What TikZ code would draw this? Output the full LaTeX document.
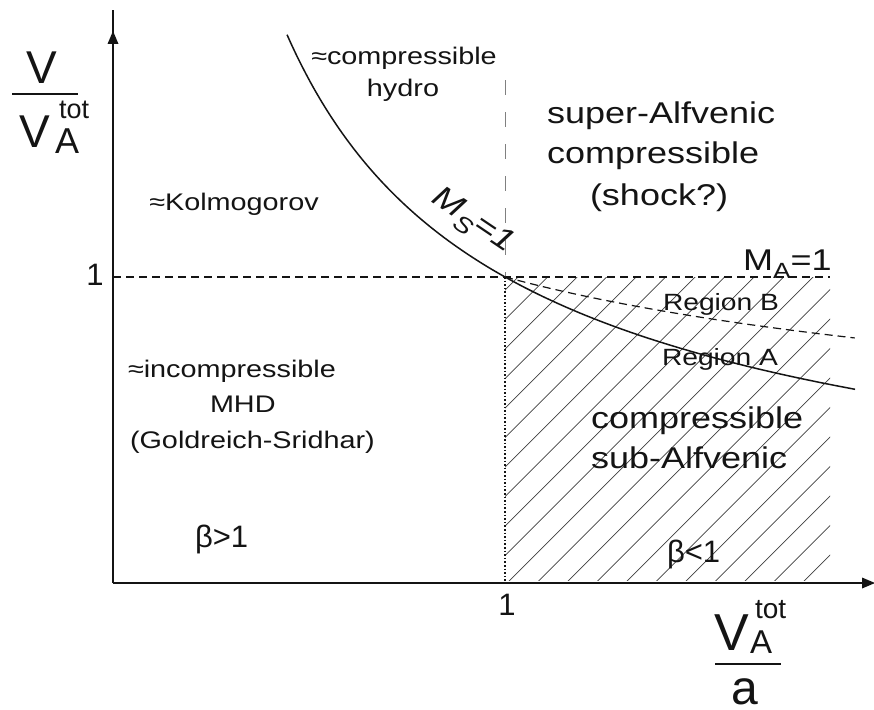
\documentclass[tikz,border=0pt]{standalone}
\usepackage{fontspec}
\setmainfont{Liberation Sans}
\newfontfamily\labfont{Liberation Sans}[FakeStretch=1.2]
\newfontfamily\labitfont{Liberation Sans Italic}[FakeStretch=1.2]
\usetikzlibrary{arrows.meta}
\newcommand\myfs[1]{\fontsize{#1}{#1}\selectfont}
\definecolor{ink}{HTML}{141414}
\tikzset{
  txt/.style={inner sep=0pt, outer sep=0pt, text=ink, font=\labfont\myfs{#1}},
  axtxt/.style={inner sep=0pt, outer sep=0pt, text=ink, font=\myfs{#1}},
  axisline/.style={line width=2.2pt, draw=ink},
  refdash/.style={line width=1.3pt, draw=ink, dash pattern=on 8pt off 5pt},
  longdash/.style={line width=1pt, draw=black!50, dash pattern=on 15pt off 17pt},
  dotline/.style={line width=1.6pt, draw=ink, dash pattern=on 1.6pt off 2pt},
  hatch/.style={line width=0.7pt, draw=black!75},
  curve/.style={line width=1.5pt, draw=ink},
  fracbar/.style={line width=2.6pt, draw=ink},
}
\begin{document}
\begin{tikzpicture}[x=1pt,y=-1pt]
\useasboundingbox[fill=white] (0,0) rectangle (874,709);
% hatching
\begin{scope}
  \clip (505,277) rectangle (830,580);
  \foreach \k in {-12,...,12} {
    \draw[hatch] ({508+29.5*\k},582) -- ++(340,-340);
  }
\end{scope}
% reference lines
\draw[refdash] (113,277) -- (830,277);
\draw[longdash] (505,80) -- (505,277);
\draw[dotline] (505,277) -- (505,582);
% curves
\draw[curve] plot[domain=0.444:1.893,samples=120,smooth] ({113+392*\x},{582-305*pow(\x,-0.72)});
\draw[refdash, line width=1.2pt] plot[domain=1:1.893,samples=60,smooth] ({113+392*\x},{582-305*pow(\x,-0.35)});
% axes
\draw[axisline] (113,583) -- (113,10);
\fill[ink] (113,31) -- (107.5,44) -- (118.5,44) -- cycle;
\draw[axisline] (113,583) -- (866,583);
\fill[ink] (875,583) -- (862,577.5) -- (862,588.5) -- cycle;
% y label
\node[axtxt=46, anchor=base west] (yV) at (26,83) {V};
\draw[fracbar] (12,94) -- (78,94);
\node[axtxt=46, anchor=base west] (yVA) at (19,147) {V};
\node[axtxt=36, anchor=base west] (yA) at (55,153) {A};
\node[axtxt=27, anchor=base west] (ytot) at (59,118) {tot};
\node[axtxt=31, anchor=base] (yone) at (95,285) {1};
% x label
\node[axtxt=31, anchor=base] (xone) at (507,615) {1};
\node[axtxt=52, anchor=base west] (xV) at (714,650) {V};
\node[axtxt=33, anchor=base west] (xA) at (750,653) {A};
\node[axtxt=28, anchor=base west] (xtot) at (755,618) {tot};
\draw[line width=2pt, draw=ink] (715,664) -- (781,664);
\node[axtxt=48, anchor=base] (xa) at (745,704) {a};
% region labels
\node[txt=24, anchor=base] (kolm) at (234,210) {≈Kolmogorov};
\node[txt=24, anchor=base] (chydro1) at (404,64) {≈compressible};
\node[txt=24, anchor=base] (chydro2) at (403,96) {hydro};
\node[txt=30, anchor=base west] (sup1) at (547,123) {super-Alfvenic};
\node[txt=30, anchor=base west] (sup2) at (547,163) {compressible};
\node[txt=30, anchor=base west] (sup3) at (590,205) {(shock?)};
\node[txt=30, anchor=base west] (ma) at (743,270) {M\raisebox{-0.28em}{\myfs{22}A}=1};
\node[txt=23.5, anchor=base west] (regb) at (663,310) {Region B};
\node[txt=23.5, anchor=base west] (rega) at (662,365) {Region A};
\node[inner sep=0pt, text=ink, font=\labitfont\myfs{31}, rotate=-34] (ms) at (472,222) {M\raisebox{-0.28em}{\myfs{23}S}=1};
\node[txt=24, anchor=base west] (inc1) at (128,377) {≈incompressible};
\node[txt=24, anchor=base west] (inc2) at (210,412) {MHD};
\node[txt=24, anchor=base west] (inc3) at (130,448) {(Goldreich-Sridhar)};
\node[axtxt=31, anchor=base west] (bgt) at (195,547) {β>1};
\node[txt=30, anchor=base west] (sub1) at (591,428) {compressible};
\node[txt=30, anchor=base west] (sub2) at (591,468) {sub-Alfvenic};
\node[axtxt=31, anchor=base west] (blt) at (667,562) {β<1};
\end{tikzpicture}
\end{document}
